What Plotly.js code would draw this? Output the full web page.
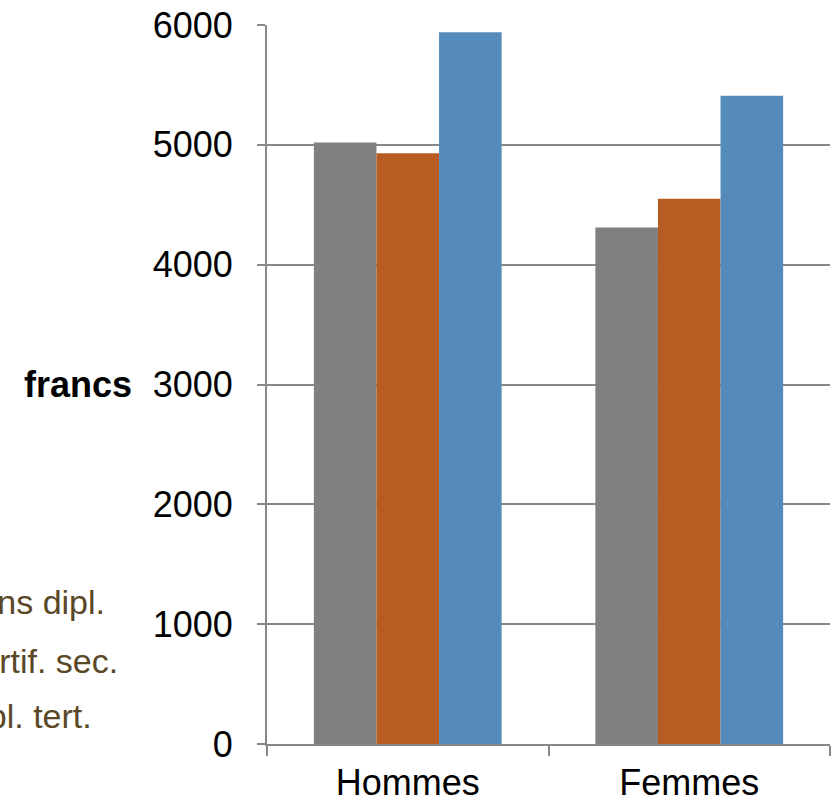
<!DOCTYPE html>
<html>
<head>
<meta charset="utf-8">
<script src="https://cdn.plot.ly/plotly-3.0.1.min.js"></script>
<style>html,body{margin:0;padding:0;background:#fff;}#chart{width:840px;height:805px;}</style>
</head>
<body>
<div id="chart"></div>
<script>
const categories = ["Hommes", "Femmes"];
const seriesNames = ["Sans dipl.", "Certif. sec.", "Dipl. tert."];
const sansDipl = [5020, 4310];
const certifSec = [4930, 4550];
const diplTert = [5940, 5410];
const yTicks = [0, 1000, 2000, 3000, 4000, 5000, 6000];
const colors = ["#808080", "#b95c23", "#548bba"];

const seriesValues = [sansDipl, certifSec, diplTert];
const legendIds = ["legend", "legend2", "legend3"];
const traces = seriesValues.map((vals, i) => ({
  type: "bar",
  name: seriesNames[i],
  x: categories,
  y: vals,
  marker: {color: colors[i]},
  legend: legendIds[i]
}));

const legendY = [0.199, 0.117, 0.040];
function legendStyle(y) {
  return {
    x: -0.624, xanchor: "left",
    y: y, yanchor: "middle",
    font: {size: 34, color: "#5a4726"},
    bgcolor: "rgba(0,0,0,0)"
  };
}

const layout = {
  width: 840, height: 805,
  margin: {l: 267, r: 10, t: 25, b: 61, autoexpand: false},
  paper_bgcolor: "#fff", plot_bgcolor: "#fff",
  barmode: "group",
  bargap: 0.333, bargroupgap: 0,
  font: {family: "Liberation Sans, Arial, sans-serif", size: 36, color: "#000"},
  xaxis: {
    type: "category",
    showgrid: false,
    showline: true, linecolor: "#888", linewidth: 2,
    ticks: "outside", tickson: "boundaries", ticklen: 10, tickcolor: "#888", tickwidth: 2,
    tickfont: {size: 36, color: "#000"},
    ticklabelstandoff: 6,
    zeroline: false, automargin: false
  },
  yaxis: {
    range: [0, 6000],
    tickvals: yTicks,
    showgrid: true, gridcolor: "#888", gridwidth: 2,
    showline: true, linecolor: "#888", linewidth: 2,
    ticks: "outside", ticklen: 8, tickcolor: "#888", tickwidth: 2,
    tickfont: {size: 36, color: "#000"},
    ticklabelstandoff: 17,
    zeroline: false, automargin: false
  },
  showlegend: true,
  legend: legendStyle(legendY[0]),
  legend2: legendStyle(legendY[1]),
  legend3: legendStyle(legendY[2]),
  annotations: [{
    text: "<b>francs</b>",
    xref: "paper", yref: "y",
    x: -0.236, y: 3000,
    xanchor: "right", yanchor: "middle",
    showarrow: false,
    font: {size: 36, color: "#000"}
  }]
};

Plotly.newPlot("chart", traces, layout, {displayModeBar: false});
</script>
</body>
</html>
